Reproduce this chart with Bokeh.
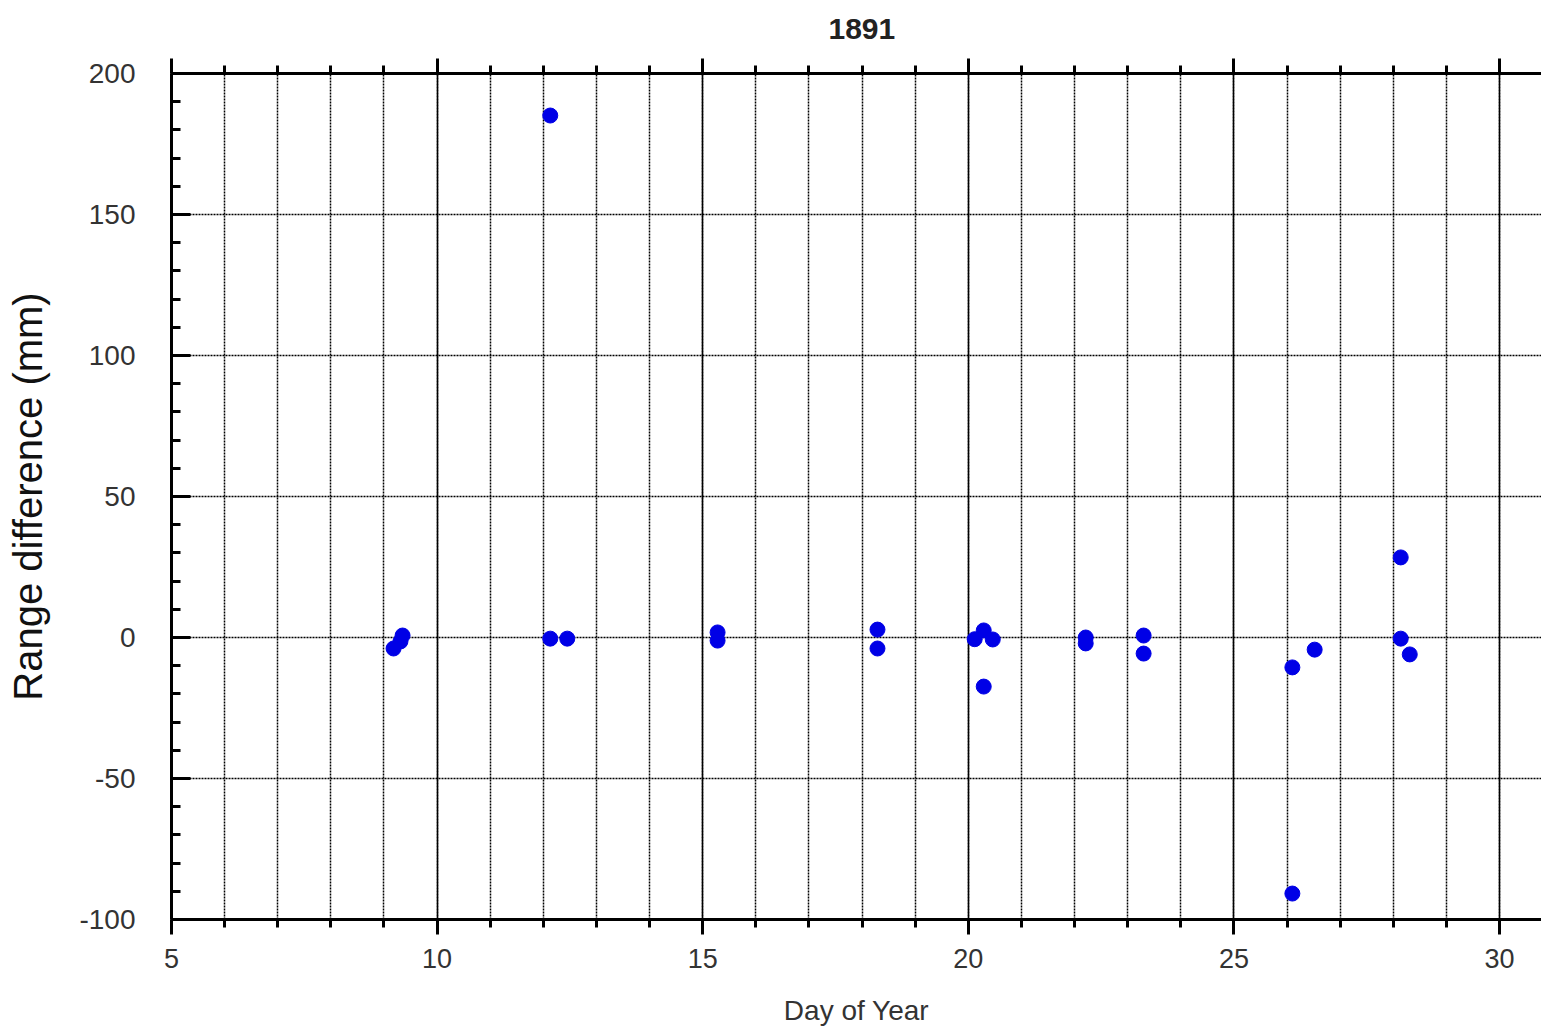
from bokeh.plotting import figure
from bokeh.models import LinearAxis, FixedTicker, Range1d
from bokeh.embed import file_html
from bokeh.resources import INLINE

# ---- data ----
day_of_year = [9.18, 9.31, 9.35, 12.13, 12.13, 12.45, 15.28, 15.28,
               18.29, 18.29, 20.12, 20.29, 20.29, 20.46, 22.21, 22.21,
               23.30, 23.30, 26.10, 26.10, 26.52, 28.14, 28.14, 28.31]
range_diff = [-3.9, -1.4, 0.7, 185.1, -0.4, -0.4, 1.8, -1.1,
              2.8, -3.9, -0.6, 2.5, -17.4, -0.7, 0.0, -2.1,
              0.7, -5.7, -10.6, -90.8, -4.3, 28.4, -0.4, -6.0]

x_major = [5, 10, 15, 20, 25, 30]
x_minor = list(range(5, 32))
y_major = [-100, -50, 0, 50, 100, 150, 200]
y_tick_labels = ["-100", "-50", "0", "50", "100", "150", "200"]
y_minor = list(range(-100, 201, 10))
title_text = "1891"

FONT = "Liberation Sans"

p = figure(frame_width=1370, frame_height=846,
           min_border_left=171, min_border_right=0,
           min_border_top=73, min_border_bottom=100,
           x_range=Range1d(5, 30.79), y_range=Range1d(-100, 200),
           x_axis_label="Day of Year", y_axis_label="Range difference (mm)",
           output_backend="svg", toolbar_location=None)
p.outline_line_color = None
p.background_fill_color = "white"
p.border_fill_color = "white"

xt = FixedTicker(ticks=x_major, minor_ticks=x_minor)
yt = FixedTicker(ticks=y_major, minor_ticks=y_minor)

# grids
p.xgrid.ticker = xt
p.xgrid.grid_line_color = "black"
p.xgrid.grid_line_width = 1.5
p.xgrid.minor_grid_line_color = "black"
p.xgrid.minor_grid_line_width = 1.5
p.xgrid.minor_grid_line_dash = "2 1"
p.ygrid.ticker = yt
p.ygrid.grid_line_color = "black"
p.ygrid.grid_line_width = 1.5
p.ygrid.grid_line_dash = "2 1"

# bottom axis
xa = p.xaxis[0]
xa.ticker = xt
xa.axis_line_width = 3
xa.major_tick_line_width = 3
xa.minor_tick_line_width = 3
xa.major_tick_in = 0
xa.major_tick_out = 15
xa.minor_tick_in = 0
xa.minor_tick_out = 8
xa.major_label_text_font = FONT
xa.major_label_text_font_size = "27px"
xa.major_label_text_color = "#333333"
xa.major_label_standoff = 14
xa.axis_label_text_font = FONT
xa.axis_label_text_font_size = "28px"
xa.axis_label_text_font_style = "normal"
xa.axis_label_text_color = "#333333"
xa.axis_label_standoff = 24

# left axis
ya = p.yaxis[0]
ya.ticker = yt
ya.major_label_overrides = dict(zip(y_major, y_tick_labels))
ya.axis_line_width = 3
ya.major_tick_line_width = 3
ya.minor_tick_line_width = 3
ya.major_tick_in = 19
ya.major_tick_out = 0
ya.minor_tick_in = 9
ya.minor_tick_out = 0
ya.major_label_text_font = FONT
ya.major_label_text_font_size = "28px"
ya.major_label_text_color = "#333333"
ya.major_label_standoff = 36
ya.axis_label_text_font = FONT
ya.axis_label_text_font_size = "40px"
ya.axis_label_text_font_style = "normal"
ya.axis_label_text_color = "#111111"
ya.axis_label_standoff = 26

# top axis (ticks only, no labels)
top = LinearAxis(ticker=xt, axis_line_width=3,
                 major_tick_line_width=3, minor_tick_line_width=3,
                 major_tick_in=0, major_tick_out=15,
                 minor_tick_in=0, minor_tick_out=8,
                 major_label_text_color=None,
                 major_label_text_font_size="1px", major_label_standoff=0)
p.add_layout(top, "above")

# title
p.title.text = title_text
p.title.align = "left"
p.title.offset = 657
p.title.standoff = 36
p.title.vertical_align = "top"
p.title.text_font = FONT
p.title.text_font_size = "30px"
p.title.text_font_style = "bold"
p.title.text_color = "#222222"

p.scatter(day_of_year, range_diff, size=15, fill_color="#0000e6",
          line_color="#0000e6")

open("out.html", "w").write(file_html(p, INLINE))
